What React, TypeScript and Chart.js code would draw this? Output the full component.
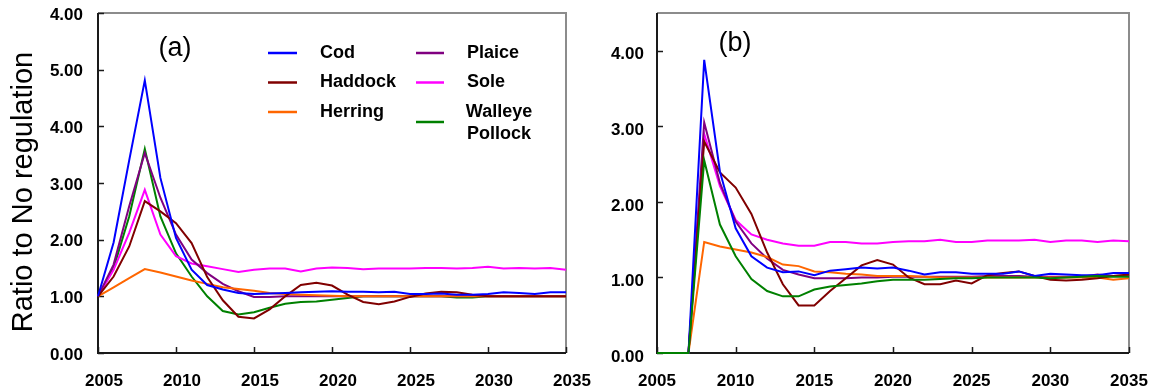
import React, { useEffect, useRef } from "react";
import { Chart, registerables } from "chart.js";

Chart.register(...registerables);

// ---------- data ----------
const years = [
  2005, 2006, 2007, 2008, 2009, 2010, 2011, 2012, 2013, 2014, 2015, 2016, 2017, 2018, 2019, 2020,
  2021, 2022, 2023, 2024, 2025, 2026, 2027, 2028, 2029, 2030, 2031, 2032, 2033, 2034, 2035,
];
const xTickValues = [2005, 2010, 2015, 2020, 2025, 2030, 2035];
const xTickLabels = ["2005", "2010", "2015", "2020", "2025", "2030", "2035"];

const seriesNames = ["Cod", "Haddock", "Herring", "Plaice", "Sole", "Walleye Pollock"];
const seriesColors = ["#0000ff", "#800000", "#ff6600", "#800080", "#ff00ff", "#008000"];

// Panel (a)
const codA = [1.0, 1.95, 3.4, 4.81, 3.09, 2.03, 1.47, 1.2, 1.12, 1.06, 1.04, 1.05, 1.06, 1.07, 1.08, 1.09, 1.08, 1.08, 1.07, 1.08, 1.04, 1.04, 1.05, 1.03, 1.03, 1.04, 1.07, 1.06, 1.04, 1.07, 1.07];
const haddockA = [1.0, 1.35, 1.88, 2.68, 2.5, 2.29, 1.94, 1.34, 0.93, 0.64, 0.61, 0.77, 1.0, 1.2, 1.24, 1.19, 1.03, 0.9, 0.86, 0.91, 0.99, 1.05, 1.08, 1.07, 1.03, 1.0, 1.0, 1.0, 1.0, 1.0, 1.0];
const herringA = [1.0, 1.16, 1.32, 1.48, 1.42, 1.35, 1.28, 1.22, 1.16, 1.13, 1.1, 1.06, 1.04, 1.03, 1.02, 1.01, 1.0, 1.0, 1.0, 1.0, 1.0, 1.0, 1.0, 1.0, 1.0, 1.0, 1.0, 1.0, 1.0, 1.0, 1.0];
const plaiceA = [1.0, 1.56, 2.59, 3.53, 2.74, 2.09, 1.65, 1.41, 1.22, 1.09, 0.99, 0.99, 1.0, 1.0, 1.0, 1.0, 1.0, 1.0, 1.0, 1.0, 1.0, 1.0, 1.0, 1.0, 1.0, 1.0, 1.0, 1.0, 1.0, 1.0, 1.0];
const soleA = [1.0, 1.47, 2.12, 2.88, 2.09, 1.71, 1.58, 1.53, 1.48, 1.43, 1.47, 1.49, 1.49, 1.44, 1.49, 1.51, 1.5, 1.48, 1.49, 1.49, 1.49, 1.5, 1.5, 1.49, 1.5, 1.52, 1.49, 1.5, 1.49, 1.5, 1.47];
const pollockA = [1.0, 1.5, 2.41, 3.6, 2.41, 1.76, 1.35, 1.0, 0.74, 0.68, 0.72, 0.8, 0.87, 0.9, 0.91, 0.94, 0.97, 1.0, 1.0, 1.0, 1.0, 1.0, 1.0, 0.98, 0.98, 1.0, 1.0, 1.0, 1.0, 1.0, 1.0];

// Panel (b)
const codB = [0, 0, 0, 3.88, 2.4, 1.65, 1.28, 1.13, 1.07, 1.08, 1.03, 1.09, 1.11, 1.13, 1.12, 1.13, 1.09, 1.04, 1.07, 1.07, 1.05, 1.05, 1.05, 1.08, 1.02, 1.05, 1.04, 1.03, 1.03, 1.06, 1.06];
const haddockB = [0, 0, 0, 2.8, 2.39, 2.19, 1.84, 1.33, 0.91, 0.63, 0.63, 0.82, 0.99, 1.16, 1.23, 1.17, 1.0, 0.91, 0.91, 0.96, 0.92, 1.03, 1.06, 1.08, 1.02, 0.97, 0.96, 0.97, 0.99, 1.02, 1.04];
const herringB = [0, 0, 0, 1.47, 1.41, 1.37, 1.33, 1.27, 1.17, 1.15, 1.08, 1.07, 1.05, 1.04, 1.02, 1.02, 1.02, 1.01, 1.0, 1.0, 1.0, 1.0, 1.0, 1.0, 1.0, 1.0, 1.0, 1.0, 1.0, 0.97, 0.99];
const plaiceB = [0, 0, 0, 3.05, 2.25, 1.74, 1.45, 1.25, 1.1, 1.04, 0.99, 0.99, 0.99, 1.0, 1.0, 1.01, 1.01, 1.01, 1.01, 1.01, 1.01, 1.02, 1.02, 1.02, 1.01, 1.01, 1.01, 1.01, 1.04, 1.02, 1.03];
const soleB = [0, 0, 0, 2.9, 2.21, 1.76, 1.57, 1.5, 1.45, 1.42, 1.42, 1.47, 1.47, 1.45, 1.45, 1.47, 1.48, 1.48, 1.5, 1.47, 1.47, 1.49, 1.49, 1.49, 1.5, 1.47, 1.49, 1.49, 1.47, 1.49, 1.48];
const pollockB = [0, 0, 0, 2.55, 1.7, 1.28, 0.98, 0.82, 0.75, 0.75, 0.84, 0.88, 0.9, 0.92, 0.95, 0.97, 0.97, 0.97, 0.98, 0.99, 0.99, 1.0, 1.0, 1.0, 1.0, 0.99, 1.0, 1.01, 1.02, 1.01, 1.01];

const yTickValuesA = [0, 1, 2, 3, 4, 5, 6];
const yTickLabelsA = ["0.00", "1.00", "2.00", "3.00", "4.00", "5.00", "4.00"];
const yTickValuesB = [0, 1, 2, 3, 4];
const yTickLabelsB = ["0.00", "1.00", "2.00", "3.00", "4.00"];

const yTitle = "Ratio to No regulation";

const FONT = "'Liberation Sans', Arial, Helvetica, sans-serif";

// ---------- plugin drawing frame, inward ticks, labels, legend ----------
const framePlugin = {
  id: "frame",
  beforeDatasetsDraw(chart: any) {
    const { ctx, chartArea } = chart;
    const { left, right, top, bottom } = chartArea;
    const xs = chart.scales.x;
    const ys = chart.scales.y;
    ctx.save();
    // top & right frame (grey)
    ctx.strokeStyle = "#8c8c8c";
    ctx.lineWidth = 2;
    ctx.beginPath();
    ctx.moveTo(left, top);
    ctx.lineTo(right, top);
    ctx.lineTo(right, bottom);
    ctx.stroke();
    // left & bottom axes (black)
    ctx.strokeStyle = "#1a1a1a";
    ctx.lineWidth = 2;
    ctx.beginPath();
    ctx.moveTo(left, top);
    ctx.lineTo(left, bottom);
    ctx.lineTo(right, bottom);
    ctx.stroke();
    // inward ticks
    ctx.lineWidth = 1.5;
    ctx.beginPath();
    xs.ticks.forEach((t: any) => {
      const px = Math.round(xs.getPixelForValue(t.value)) + 0.5;
      ctx.moveTo(px, bottom);
      ctx.lineTo(px, bottom - 6);
    });
    ys.ticks.forEach((t: any) => {
      const py = Math.round(ys.getPixelForValue(t.value)) + 0.5;
      ctx.moveTo(left, py);
      ctx.lineTo(left + 6, py);
    });
    ctx.stroke();
    ctx.restore();
  },
  afterDraw(chart: any, _args: any, o: any) {
    const { ctx } = chart;
    ctx.save();
    // panel label
    ctx.fillStyle = "#000";
    ctx.font = `27px ${FONT}`;
    ctx.textAlign = "center";
    ctx.textBaseline = "middle";
    ctx.fillText(o.label, o.labelX, o.labelY);

    // y title
    if (o.title) {
      ctx.save();
      ctx.translate(o.titleX, o.titleY);
      ctx.rotate(-Math.PI / 2);
      ctx.font = `29px ${FONT}`;
      ctx.textAlign = "center";
      ctx.textBaseline = "alphabetic";
      ctx.fillText(o.title, 0, 0);
      ctx.restore();
    }

    // legend
    if (o.legend) {
      const ds = chart.data.datasets;
      const cols = [
        { lineX0: 268, lineX1: 297, textX: 320 },
        { lineX0: 416, lineX1: 444, textX: 467 },
      ];
      const rows = [53, 82.5, 112];
      ctx.font = `bold 18px ${FONT}`;
      ctx.textBaseline = "middle";
      ds.forEach((d: any, i: number) => {
        const c = cols[Math.floor(i / 3)];
        const r = i % 3;
        const words = String(d.label).split(" ");
        const multi = words.length > 1 && i === 5;
        const lineY = multi ? 122 : rows[r];
        ctx.strokeStyle = d.borderColor;
        ctx.lineWidth = 2.5;
        ctx.beginPath();
        ctx.moveTo(c.lineX0, lineY);
        ctx.lineTo(c.lineX1, lineY);
        ctx.stroke();
        ctx.fillStyle = "#000";
        if (multi) {
          ctx.textAlign = "center";
          ctx.fillText(words[0], 499, 112);
          ctx.fillText(words.slice(1).join(" "), 499, 134);
        } else {
          ctx.textAlign = "left";
          ctx.fillText(d.label, c.textX, rows[r]);
        }
      });
    }
    ctx.restore();
  },
};

function buildDatasets(values: number[][], pollockOnTop: boolean) {
  return values.map((vals, i) => ({
    label: seriesNames[i],
    data: years.map((yr, k) => ({ x: yr, y: vals[k] })),
    borderColor: seriesColors[i],
    backgroundColor: seriesColors[i],
    borderWidth: 2,
    pointRadius: 0,
    tension: 0,
    fill: false,
    clip: false,
    order: pollockOnTop && i === 5 ? 0 : i + 1,
  }));
}

function makeConfig(p: {
  datasets: any[];
  yMax: number;
  yVals: number[];
  yLabels: string[];
  yWidth: number;
  yPad: number;
  yLabelOffset: number;
  xLabelOffset: number;
  rightPad: number;
  frame: any;
}) {
  return {
    type: "line",
    data: { datasets: p.datasets },
    options: {
      responsive: false,
      animation: false,
      events: [],
      layout: { padding: { top: 13, right: p.rightPad, left: 0, bottom: 0 } },
      plugins: {
        legend: { display: false },
        tooltip: { enabled: false },
        frame: p.frame,
      },
      scales: {
        x: {
          type: "linear",
          min: 2005,
          max: 2035,
          grid: { display: false, drawTicks: false },
          border: { display: false },
          afterBuildTicks: (s: any) => {
            s.ticks = xTickValues.map((v) => ({ value: v }));
          },
          afterFit: (s: any) => {
            s.height = 38;
            s.paddingLeft = 0;
            s.paddingRight = 0;
            s.paddingTop = 0;
            s.paddingBottom = 0;
          },
          ticks: {
            autoSkip: false,
            maxRotation: 0,
            padding: 18,
            labelOffset: p.xLabelOffset,
            color: "#000",
            font: { family: FONT, size: 17, weight: "bold" },
            callback: (v: any) => {
              const idx = xTickValues.indexOf(Number(v));
              return idx >= 0 ? xTickLabels[idx] : "";
            },
          },
        },
        y: {
          type: "linear",
          min: 0,
          max: p.yMax,
          grid: { display: false, drawTicks: false },
          border: { display: false },
          afterBuildTicks: (s: any) => {
            s.ticks = p.yVals.map((v) => ({ value: v }));
          },
          afterFit: (s: any) => {
            s.width = p.yWidth;
            s.paddingLeft = 0;
            s.paddingRight = 0;
            s.paddingTop = 0;
            s.paddingBottom = 0;
          },
          ticks: {
            padding: p.yPad,
            labelOffset: p.yLabelOffset,
            color: "#000",
            font: { family: FONT, size: 17, weight: "bold" },
            callback: (v: any) => {
              const idx = p.yVals.indexOf(Number(v));
              return idx >= 0 ? p.yLabels[idx] : "";
            },
          },
        },
      },
    },
    plugins: [framePlugin],
  } as any;
}

function Panel(props: { config: any; left: number; width: number }) {
  const ref = useRef<HTMLCanvasElement | null>(null);
  useEffect(() => {
    if (!ref.current) return;
    const chart = new Chart(ref.current, props.config);
    return () => chart.destroy();
  }, []);
  return (
    <div style={{ position: "absolute", left: props.left, top: 0, width: props.width, height: 391 }}>
      <canvas ref={ref} width={props.width} height={391} style={{ display: "block" }} />
    </div>
  );
}

export default function App() {
  const cfgA = makeConfig({
    datasets: buildDatasets([codA, haddockA, herringA, plaiceA, soleA, pollockA], false),
    yMax: 6,
    yVals: yTickValuesA,
    yLabels: yTickLabelsA,
    yWidth: 98,
    yPad: 15,
    yLabelOffset: 2,
    xLabelOffset: 6,
    rightPad: 34,
    frame: {
      label: "(a)",
      labelX: 175,
      labelY: 49,
      legend: true,
      title: yTitle,
      titleX: 32,
      titleY: 192,
    },
  });
  const cfgB = makeConfig({
    datasets: buildDatasets([codB, haddockB, herringB, plaiceB, soleB, pollockB], true),
    yMax: 4.5,
    yVals: yTickValuesB,
    yLabels: yTickLabelsB,
    yWidth: 57,
    yPad: 13,
    yLabelOffset: 4,
    xLabelOffset: 0,
    rightPad: 22,
    frame: {
      label: "(b)",
      labelX: 135,
      labelY: 44,
      legend: false,
      title: "",
    },
  });
  return (
    <div
      style={{
        position: "fixed",
        left: 0,
        top: 0,
        width: 1151,
        height: 391,
        background: "#fff",
        overflow: "hidden",
      }}
    >
      <Panel config={cfgA} left={0} width={600} />
      <Panel config={cfgB} left={600} width={551} />
    </div>
  );
}
